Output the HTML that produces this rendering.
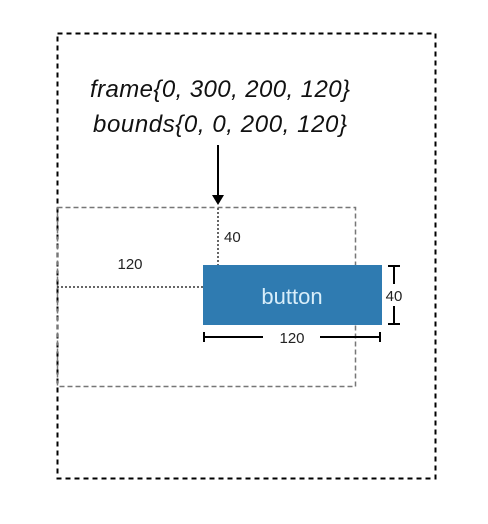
<!DOCTYPE html>
<html><head><meta charset="utf-8"><style>
html,body{margin:0;padding:0;background:#fff;}
svg{display:block;font-family:"Liberation Sans",sans-serif;}
</style></head><body>
<svg width="488" height="524" viewBox="0 0 488 524">
<rect x="57.5" y="33.5" width="378" height="445" fill="none" stroke="#000" stroke-width="2" stroke-dasharray="5,4"/>
<text x="220" y="97" font-size="24" font-style="italic" text-anchor="middle" fill="#111" textLength="260">frame{0, 300, 200, 120}</text>
<text x="220" y="132" font-size="24" font-style="italic" text-anchor="middle" fill="#111" textLength="254">bounds{0, 0, 200, 120}</text>
<line x1="218" y1="145" x2="218" y2="197" stroke="#000" stroke-width="2"/>
<polygon points="212,195 224,195 218,205" fill="#000"/>
<rect x="57.5" y="207.5" width="298" height="179" fill="none" stroke="#777" stroke-width="1.5" stroke-dasharray="5,3"/>
<line x1="218" y1="208" x2="218" y2="265" stroke="#333" stroke-width="1.5" stroke-dasharray="2,2"/>
<text x="224" y="242" font-size="15" fill="#222">40</text>
<line x1="57" y1="287" x2="203" y2="287" stroke="#333" stroke-width="1.5" stroke-dasharray="2,2"/>
<text x="130" y="269" font-size="15" text-anchor="middle" fill="#222">120</text>
<rect x="203" y="265" width="179" height="60" fill="#2f7bb1"/>
<text x="292" y="304" font-size="22" text-anchor="middle" fill="#d8eefa">button</text>
<g stroke="#000" stroke-width="2">
<line x1="204" y1="337" x2="263" y2="337"/><line x1="320" y1="337" x2="380" y2="337"/>
<line x1="204" y1="332" x2="204" y2="342"/><line x1="380" y1="332" x2="380" y2="342"/>
</g>
<text x="292" y="343" font-size="15" text-anchor="middle" fill="#222">120</text>
<g stroke="#000" stroke-width="2">
<line x1="394" y1="266" x2="394" y2="284"/><line x1="394" y1="306" x2="394" y2="324"/>
<line x1="388" y1="266" x2="400" y2="266"/><line x1="388" y1="324" x2="400" y2="324"/>
</g>
<text x="394" y="301" font-size="15" text-anchor="middle" fill="#222">40</text>
</svg>
</body></html>
